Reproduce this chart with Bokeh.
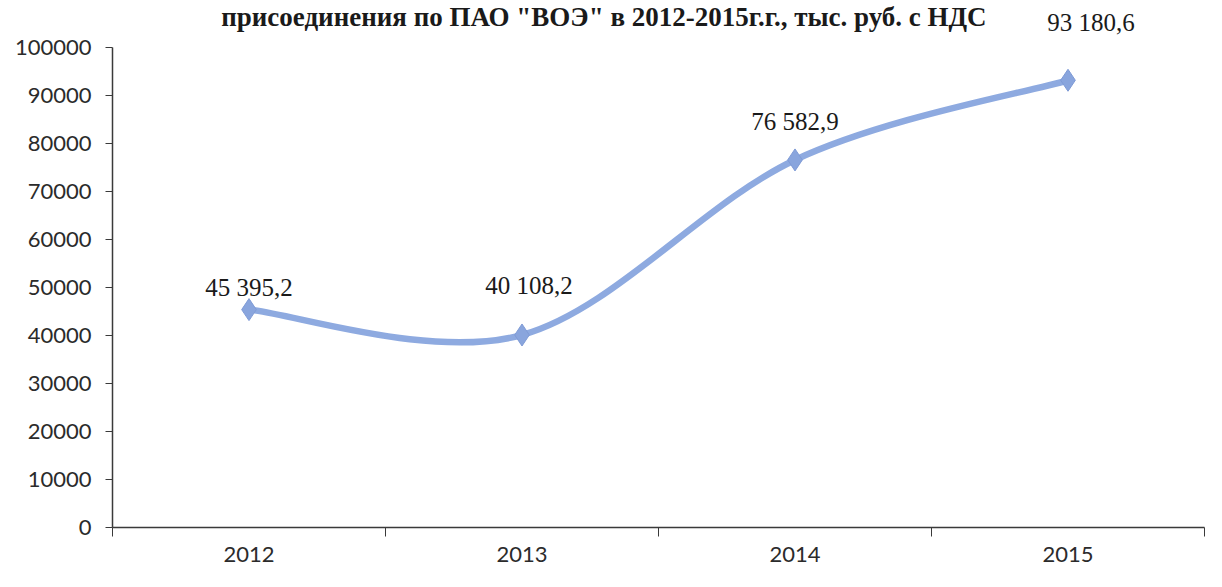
from bokeh.plotting import figure
from bokeh.models import Range1d, FixedTicker, BasicTickFormatter, Label
from bokeh.core.properties import value
from bokeh.embed import file_html
from bokeh.resources import INLINE

years = ["2012", "2013", "2014", "2015"]
amounts = [45395.2, 40108.2, 76582.9, 93180.6]
y_ticks = [0, 10000, 20000, 30000, 40000, 50000, 60000, 70000, 80000, 90000, 100000]
title_text = "присоединения по ПАО \"ВОЭ\" в 2012-2015г.г., тыс. руб. с НДС"

# label placement (screen px offsets relative to each point)
label_dx = [0, 7, 0, 23]
label_dy = [-22, -49, -38, -58]

LINE = "#8eaae0"
MARK = "#89a5dd"

xs = [i + 0.5 for i in range(len(years))]

def fmt(v):
    s = f"{v:,.1f}"
    return s.replace(",", " ").replace(".", ",")

labels = [fmt(v) for v in amounts]

p = figure(width=1206, height=571, output_backend="svg", toolbar_location=None,
           x_range=Range1d(0, len(years)), y_range=Range1d(0, 109800),
           min_border_left=112, min_border_right=2, min_border_top=0, min_border_bottom=44)
p.outline_line_color = None
p.xgrid.visible = False
p.ygrid.visible = False
p.background_fill_color = "white"
p.border_fill_color = "white"

p.add_layout(Label(x=1.80, y=106400, text=title_text, text_font="Liberation Serif",
                   text_font_size="27px", text_font_style="bold", text_color="#1a1a1a",
                   text_align="center", text_baseline="alphabetic"))

# y axis
p.yaxis.ticker = FixedTicker(ticks=y_ticks)
p.yaxis.bounds = (0, 100000)
p.yaxis.formatter = BasicTickFormatter(use_scientific=False)
p.yaxis.major_label_text_font = "Lato"
p.yaxis.major_label_text_font_size = "22px"
p.yaxis.major_label_text_color = "#2b2b2b"
p.yaxis.major_tick_out = 7
p.yaxis.major_tick_in = 0
p.yaxis.minor_tick_out = 0
p.yaxis.minor_tick_in = 0
p.yaxis.axis_line_color = "#3a3a3a"
p.yaxis.major_tick_line_color = "#3a3a3a"
p.yaxis.axis_line_width = 1.5
p.yaxis.major_label_standoff = 14

# x axis
p.xaxis.ticker = FixedTicker(ticks=xs, minor_ticks=list(range(len(years) + 1)))
p.xaxis.major_label_overrides = {x: y for x, y in zip(xs, years)}
p.xaxis.major_label_text_font = "Lato"
p.xaxis.major_label_text_font_size = "22px"
p.xaxis.major_label_text_color = "#2b2b2b"
p.xaxis.major_tick_out = 0
p.xaxis.major_tick_in = 0
p.xaxis.minor_tick_out = 9
p.xaxis.minor_tick_in = 0
p.xaxis.minor_tick_line_color = "#3a3a3a"
p.xaxis.axis_line_color = "#3a3a3a"
p.xaxis.axis_line_width = 1.5
p.xaxis.major_label_standoff = 10

# smoothed line via Bezier segments (Catmull-Rom style control points)
n = len(xs)
x0s, y0s, x1s, y1s, cx0, cy0, cx1, cy1 = [], [], [], [], [], [], [], []
for i in range(n - 1):
    pa = (xs[max(i - 1, 0)], amounts[max(i - 1, 0)])
    pb = (xs[i], amounts[i])
    pc = (xs[i + 1], amounts[i + 1])
    pd = (xs[min(i + 2, n - 1)], amounts[min(i + 2, n - 1)])
    x0s.append(pb[0]); y0s.append(pb[1])
    x1s.append(pc[0]); y1s.append(pc[1])
    cx0.append(pb[0] + (pc[0] - pa[0]) / 6); cy0.append(pb[1] + (pc[1] - pa[1]) / 6)
    cx1.append(pc[0] - (pd[0] - pb[0]) / 6); cy1.append(pc[1] - (pd[1] - pb[1]) / 6)

p.bezier(x0=x0s, y0=y0s, x1=x1s, y1=y1s, cx0=cx0, cy0=cy0, cx1=cx1, cy1=cy1,
         line_color=LINE, line_width=6.5, line_cap="round")

p.scatter(xs, amounts, marker="diamond", size=22, fill_color=MARK,
          line_color="#7f9bd6", line_width=1)

p.text(xs, amounts, text=labels, x_offset=label_dx, y_offset=label_dy,
       text_font=value("Liberation Serif"), text_font_size="25px",
       text_color="#1a1a1a", text_align="center", text_baseline="middle")

open("out.html", "w").write(file_html(p, INLINE))
